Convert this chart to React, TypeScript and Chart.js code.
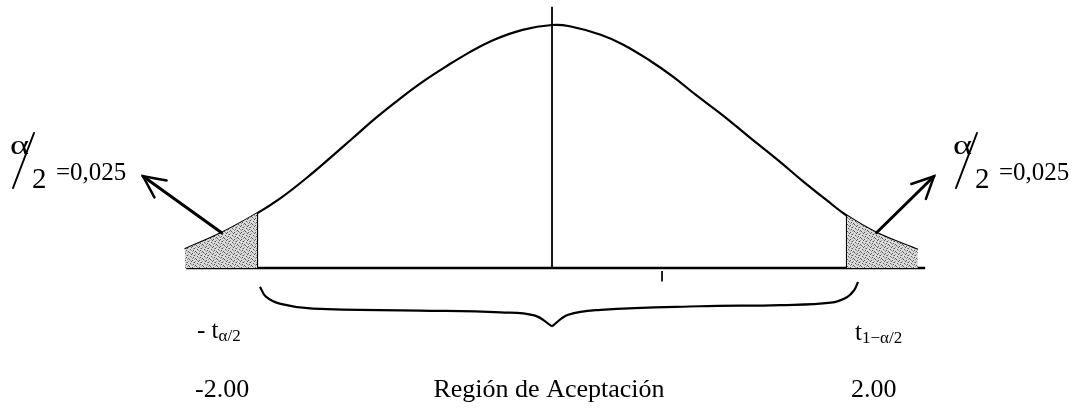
import { useEffect, useRef } from "react";
import { Chart, registerables } from "chart.js";

Chart.register(...registerables);

// t-distribution curve
const curveX = [-2.49, -2.24, -2.0, -1.84, -1.66, -1.5, -1.35, -1.19, -1.03, -0.88, -0.71, -0.56, -0.4, -0.2, 0.0, 0.12, 0.33, 0.48, 0.66, 0.82, 0.98, 1.16, 1.34, 1.53, 1.7, 1.86, 2.0, 2.2, 2.48];
const curveY = [0.031, 0.058, 0.09, 0.115, 0.149, 0.182, 0.214, 0.248, 0.279, 0.306, 0.333, 0.355, 0.375, 0.392, 0.4, 0.398, 0.384, 0.368, 0.342, 0.315, 0.284, 0.251, 0.215, 0.178, 0.143, 0.112, 0.086, 0.058, 0.03];

const criticalValues = [-2.0, 2.0];
const baselineX = [-2.48, 2.53];
const centerLineTop = 0.43;

// curly brace under the acceptance region
const braceLeftX = [-1.98, -1.94, -1.84, -1.62, -0.9, -0.35, -0.12, 0.0];
const braceLeftY = [-0.031, -0.047, -0.059, -0.067, -0.07, -0.073, -0.078, -0.096];
const braceRightX = [0.0, 0.11, 0.33, 1.0, 1.55, 1.89, 2.0, 2.05, 2.075];
const braceRightY = [-0.096, -0.077, -0.069, -0.063, -0.061, -0.057, -0.048, -0.036, -0.023];

const tickMarkX = [0.746, 0.746];
const tickMarkY = [-0.005, -0.022];

const tickLabels = ["-2.00", "2.00"];
const regionLabel = "Región de Aceptación";
const alphaValue = "=0,025";

const pts = (xs: number[], ys: number[]) => xs.map((x, i) => ({ x, y: ys[i] }));

function makeStipple(): CanvasPattern | string {
  const c = document.createElement("canvas");
  c.width = 7;
  c.height = 7;
  const g = c.getContext("2d");
  if (!g) return "#cccccc";
  g.fillStyle = "#dadada";
  g.fillRect(0, 0, 7, 7);
  g.fillStyle = "#555";
  const dots = [[0, 0], [3, 1], [5, 3], [1, 4], [4, 5], [6, 6], [2, 2]];
  dots.forEach(([x, y]) => g.fillRect(x, y, 1, 1));
  g.fillStyle = "#999";
  [[1, 1], [4, 3], [2, 5], [5, 0], [3, 6], [6, 2]].forEach(([x, y]) => g.fillRect(x, y, 1, 1));
  return g.createPattern(c, "repeat") || "#cccccc";
}

const FONT = '"Liberation Serif", "Times New Roman", serif';

const annotationPlugin = {
  id: "annotations",
  afterDatasetsDraw(chart: any) {
    const ctx: CanvasRenderingContext2D = chart.ctx;
    const xs = chart.scales.x;
    const ys = chart.scales.y;
    const P = (x: number, y: number) => [xs.getPixelForValue(x), ys.getPixelForValue(y)];
    ctx.save();
    ctx.strokeStyle = "#000";
    ctx.fillStyle = "#000";
    ctx.lineCap = "round";

    // arrows from the tails
    const arrow = (x0: number, y0: number, x1: number, y1: number) => {
      const [ax, ay] = P(x0, y0);
      const [bx, by] = P(x1, y1);
      ctx.lineWidth = 3;
      ctx.beginPath();
      ctx.moveTo(ax, ay);
      ctx.lineTo(bx, by);
      ctx.stroke();
      const ang = Math.atan2(by - ay, bx - ax);
      const L = 24;
      ctx.lineWidth = 2.5;
      ctx.beginPath();
      ctx.moveTo(bx - L * Math.cos(ang - 0.45), by - L * Math.sin(ang - 0.45));
      ctx.lineTo(bx, by);
      ctx.lineTo(bx - L * Math.cos(ang + 0.45), by - L * Math.sin(ang + 0.45));
      ctx.stroke();
    };
    arrow(curveX[1], curveY[1], -2.773, 0.151);
    arrow(curveX[27], curveY[27], 2.59, 0.151);

    // alpha/2 labels
    const alphaLabel = (left: number) => {
      ctx.textBaseline = "alphabetic";
      ctx.textAlign = "left";
      ctx.save();
      ctx.translate(left, 154);
      ctx.scale(1.3, 1);
      ctx.font = `28px ${FONT}`;
      ctx.fillText("α", 0, 0);
      ctx.restore();
      ctx.lineWidth = 2;
      ctx.beginPath();
      ctx.moveTo(left + 3, 188);
      ctx.lineTo(left + 24, 133);
      ctx.stroke();
      ctx.font = `29px ${FONT}`;
      ctx.fillText("2", left + 22, 188);
      ctx.font = `25px ${FONT}`;
      ctx.fillText(alphaValue, left + 46, 180);
    };
    alphaLabel(10);
    alphaLabel(953);

    // t labels
    ctx.font = `25px ${FONT}`;
    ctx.textAlign = "left";
    const [lx] = P(criticalValues[0], 0);
    const [rx] = P(criticalValues[1], 0);
    let x = lx - 60;
    ctx.fillText("- t", x, 338);
    x += ctx.measureText("- t").width;
    ctx.font = `17px ${FONT}`;
    ctx.fillText("α/2", x, 341);

    ctx.font = `25px ${FONT}`;
    x = rx + 8;
    ctx.fillText("t", x, 340);
    x += ctx.measureText("t").width;
    ctx.font = `17px ${FONT}`;
    ctx.fillText("1−α/2", x, 343);

    ctx.font = `26px ${FONT}`;
    ctx.fillText(tickLabels[0], lx - 62, 397);
    ctx.fillText(tickLabels[1], rx + 4, 397);
    ctx.textAlign = "center";
    const [cx] = P(0, 0);
    ctx.fillText(regionLabel, cx - 3, 397);
    ctx.restore();
  },
};

export default function App() {
  const ref = useRef<HTMLCanvasElement | null>(null);
  useEffect(() => {
    if (!ref.current) return;
    const stipple = makeStipple();
    const leftTail = curveX.map((x, i) => ({ x, y: curveY[i] })).filter((p) => p.x <= criticalValues[0]);
    const rightTail = curveX.map((x, i) => ({ x, y: curveY[i] })).filter((p) => p.x >= criticalValues[1]);
    const critTop = (c: number) => curveY[curveX.indexOf(c)];
    const line = (data: any[], width: number, extra: any = {}) => ({
      data,
      showLine: true,
      borderColor: "#000",
      borderWidth: width,
      pointRadius: 0,
      fill: false,
      ...extra,
    });
    const chart = new Chart(ref.current, {
      type: "scatter",
      data: {
        datasets: [
          line(leftTail, 0, { fill: "origin", backgroundColor: stipple, tension: 0.4 }),
          line(rightTail, 0, { fill: "origin", backgroundColor: stipple, tension: 0.4 }),
          line(pts(curveX, curveY), 2.2, { tension: 0.4 }),
          line(pts(baselineX, [0, 0]), 2.4),
          line([{ x: criticalValues[0], y: 0 }, { x: criticalValues[0], y: critTop(criticalValues[0]) }], 2.2),
          line([{ x: criticalValues[1], y: 0 }, { x: criticalValues[1], y: critTop(criticalValues[1]) }], 2.2),
          line([{ x: 0, y: 0 }, { x: 0, y: centerLineTop }], 1.8),
          line(pts(braceLeftX, braceLeftY), 2.2, { tension: 0.4 }),
          line(pts(braceRightX, braceRightY), 2.2, { tension: 0.4 }),
          line(pts(tickMarkX, tickMarkY), 1),
        ],
      },
      options: {
        responsive: false,
        animation: false,
        layout: { padding: 0 },
        plugins: { legend: { display: false }, tooltip: { enabled: false } },
        scales: {
          x: { type: "linear", min: -3.7424, max: 3.5593, display: false },
          y: { type: "linear", min: -0.23045, max: 0.44115, display: false },
        },
      },
      plugins: [annotationPlugin],
    });
    return () => chart.destroy();
  }, []);
  return (
    <canvas
      ref={ref}
      width={1077}
      height={408}
      style={{ position: "fixed", left: 0, top: 0, width: 1077, height: 408, background: "#fff" }}
    />
  );
}
